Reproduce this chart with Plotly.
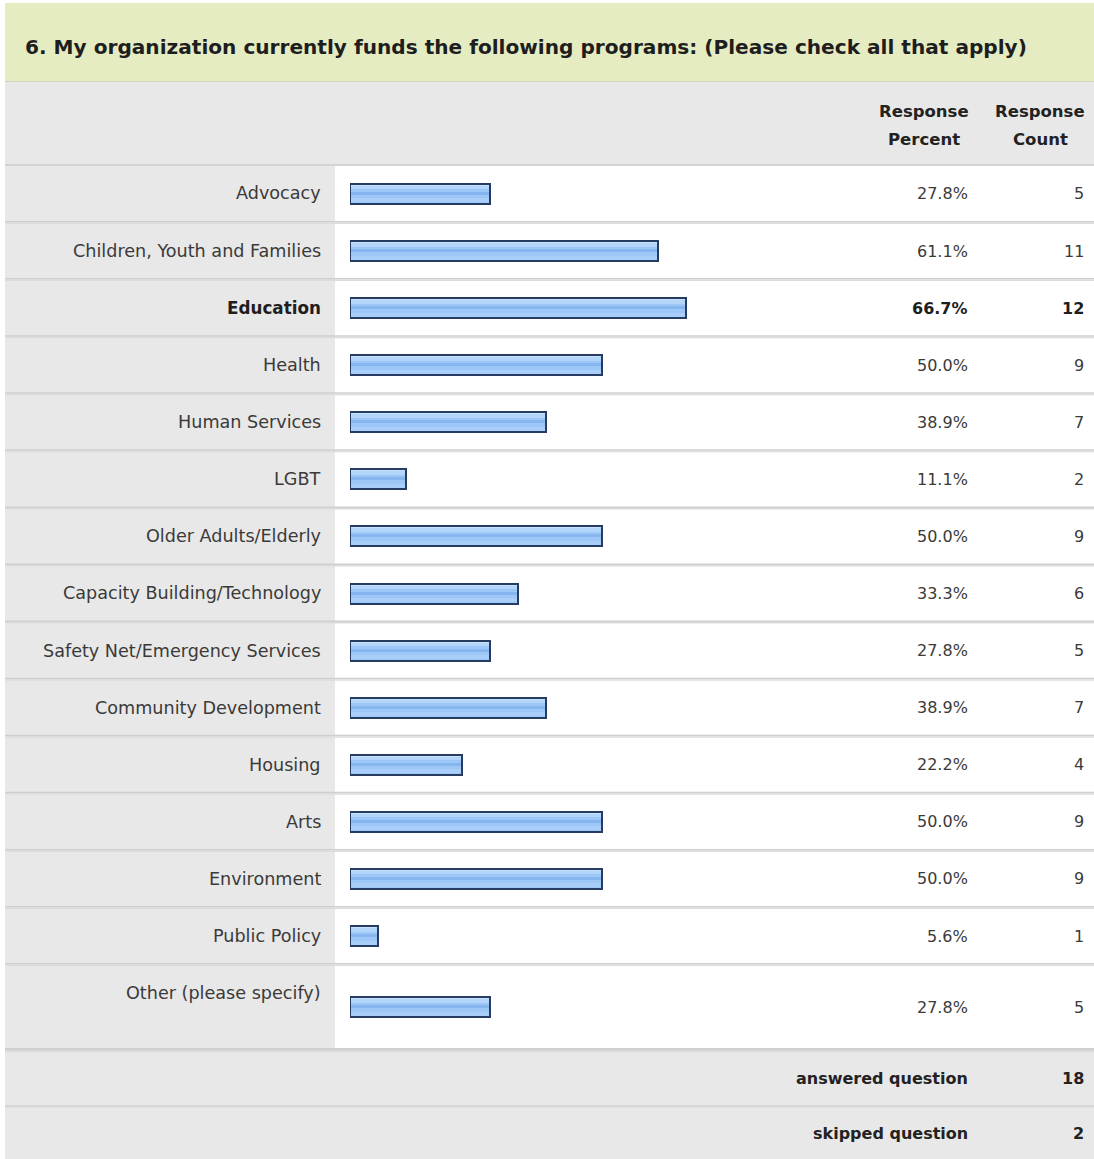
import plotly.graph_objects as go

# ---- data ---------------------------------------------------------------
TITLE = "6. My organization currently funds the following programs: (Please check all that apply)"
categories = [
    "Advocacy",
    "Children, Youth and Families",
    "Education",
    "Health",
    "Human Services",
    "LGBT",
    "Older Adults/Elderly",
    "Capacity Building/Technology",
    "Safety Net/Emergency Services",
    "Community Development",
    "Housing",
    "Arts",
    "Environment",
    "Public Policy",
    "Other (please specify)",
]
percents = [27.8, 61.1, 66.7, 50.0, 38.9, 11.1, 50.0, 33.3, 27.8, 38.9, 22.2, 50.0, 50.0, 5.6, 27.8]
counts = [5, 11, 12, 9, 7, 2, 9, 6, 5, 7, 4, 9, 9, 1, 5]
header_percent = ["Response", "Percent"]
header_count = ["Response", "Count"]
summary_labels = ["answered question", "skipped question"]
summary_values = [18, 2]

# ---- page geometry (pixels; y grows downward) ---------------------------
W, H = 1094, 1159
LEFT = 5
LABEL_COL_RIGHT = 335
TITLE_TOP, TITLE_BOTTOM = 3, 81
HEADER_BOTTOM = 165
ROW_PITCH = 57.08
SEP = 3
OTHER_BOTTOM = 1048
SUMMARY_SEP = 1105
BAR_X0, BAR_SPAN = 350, 504          # pixel position of 0 % and length of 100 %
BAR_H = 20
LABEL_RIGHT, PCT_RIGHT, CNT_RIGHT = 323, 970, 1086

FONT = "DejaVu Sans"
TXT = "#3a3a3a"
GREY = "#e8e8e8"
LINE = "#d3d3d3"

n = len(categories)
# separator under each regular row, then the taller last row
seps = [221 + ROW_PITCH * i for i in range(n - 1)]
row_tops = [HEADER_BOTTOM + 1] + [s + SEP for s in seps]
row_bottoms = seps + [OTHER_BOTTOM]
centers = [(t + b) / 2 for t, b in zip(row_tops, row_bottoms)]
label_y = [t + 27 for t in row_tops]
top_count = max(counts)


def px(x):
    return x / W


shapes = []


def rect(x0, x1, y0, y1, color):
    shapes.append(dict(type="rect", xref="paper", yref="y", x0=px(x0), x1=px(x1),
                       y0=y0, y1=y1, fillcolor=color, line_width=0, layer="below"))


# backgrounds
rect(LEFT, W, TITLE_TOP, TITLE_BOTTOM, "#e6ecc2")
rect(LEFT, W, TITLE_BOTTOM, TITLE_BOTTOM + 1.5, "#d2d6c0")
rect(LEFT, W, TITLE_BOTTOM + 1.5, HEADER_BOTTOM, GREY)
rect(LEFT, W, HEADER_BOTTOM - 1, HEADER_BOTTOM + 1, LINE)
rect(LEFT, LABEL_COL_RIGHT, HEADER_BOTTOM + 1, OTHER_BOTTOM, GREY)
rect(LABEL_COL_RIGHT, W, HEADER_BOTTOM + 1, OTHER_BOTTOM, "#ffffff")
for s in seps:
    rect(LEFT, W, s, s + 1.5, "#cfcfcf")
    rect(LEFT, W, s + 1.5, s + SEP, "#dcdcdc")
rect(LEFT, W, OTHER_BOTTOM, H, GREY)
rect(LEFT, W, OTHER_BOTTOM, OTHER_BOTTOM + 2, "#cfcfcf")
rect(LEFT, W, OTHER_BOTTOM + 2, OTHER_BOTTOM + 4, "#dadada")
rect(LEFT, W, SUMMARY_SEP, SUMMARY_SEP + 2.5, "#d6d6d6")

fig = go.Figure()

# glossy blue bars: body, highlight bands, then the navy outline on top
layers = [
    (0, BAR_H, "#9dc7f7"),
    (-6.25, 3.5, "#b3d5fa"),
    (-8.75, 1.5, "#c8e1fc"),
    (-0.5, 3, "#86b5ef"),
    (6.5, 4, "#a9cef9"),
]
for off, hgt, col in layers:
    fig.add_trace(go.Bar(
        x=percents, y=[c + off for c in centers], width=hgt, orientation="h",
        marker=dict(color=col, line=dict(width=0)), hoverinfo="skip", showlegend=False,
    ))
fig.add_trace(go.Bar(
    x=percents, y=centers, width=BAR_H, orientation="h",
    marker=dict(color="rgba(0,0,0,0)", line=dict(color="#263c60", width=2)),
    customdata=counts, hovertemplate="%{x:.1f}%<extra></extra>", showlegend=False,
))

ann = []


def text(x, y, s, anchor="right", size=15, bold=False, color=TXT):
    ann.append(dict(xref="paper", yref="y", x=px(x), y=y, text=s, showarrow=False,
                    xanchor=anchor, yanchor="middle",
                    font=dict(family=FONT, size=size, color=color,
                              weight="bold" if bold else "normal")))


text(23, 47, TITLE, anchor="left", size=20.1, bold=True, color="#1e1e1e")
for col_x, lines in ((924, header_percent), (1040, header_count)):
    text(col_x, 111, lines[0], anchor="center", size=16.5, bold=True, color="#222222")
    text(col_x, 139, lines[1], anchor="center", size=16.5, bold=True, color="#222222")

for cat, p, c, cy, ly in zip(categories, percents, counts, centers, label_y):
    b = c == top_count
    col = "#1e1e1e" if b else TXT
    text(LABEL_RIGHT, ly, cat, size=17.6 if not b else 16.8, bold=b, color=col)
    text(PCT_RIGHT, cy, f"{p:.1f}%", size=16, bold=b, color=col)
    text(CNT_RIGHT, cy, str(c), size=16, bold=b, color=col)

summary_centers = [(OTHER_BOTTOM + 4 + SUMMARY_SEP) / 2, (SUMMARY_SEP + 2.5 + H) / 2]
for lab, val, cy in zip(summary_labels, summary_values, summary_centers):
    text(PCT_RIGHT, cy, lab, size=16, bold=True, color="#222222")
    text(CNT_RIGHT, cy, str(val), size=16, bold=True, color="#222222")

fig.update_layout(
    width=W, height=H, margin=dict(l=0, r=0, t=0, b=0),
    paper_bgcolor="#ffffff", plot_bgcolor="rgba(0,0,0,0)",
    barmode="overlay", bargap=0,
    xaxis=dict(domain=[px(BAR_X0), px(BAR_X0 + BAR_SPAN)], range=[0, 100],
               visible=False, fixedrange=True),
    yaxis=dict(domain=[0, 1], range=[H, 0], visible=False, fixedrange=True),
    shapes=shapes, annotations=ann,
)

fig.write_html("out.html", config={"displayModeBar": False})
